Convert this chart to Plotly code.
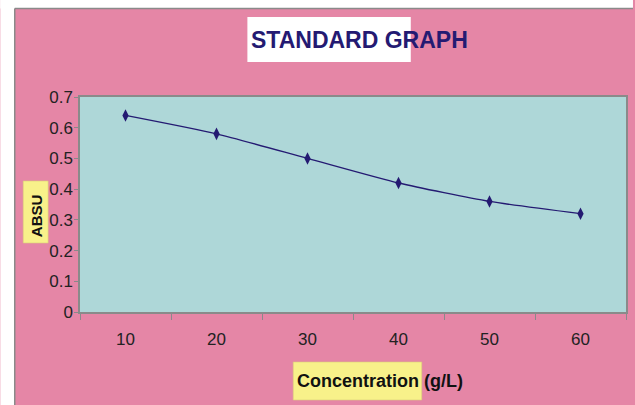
import plotly.graph_objects as go

# Standard curve data
concentration = ["10", "20", "30", "40", "50", "60"]
absorbance = [0.64, 0.58, 0.50, 0.42, 0.36, 0.32]
y_ticks = [0, 0.1, 0.2, 0.3, 0.4, 0.5, 0.6, 0.7]
y_tick_labels = ["0", "0.1", "0.2", "0.3", "0.4", "0.5", "0.6", "0.7"]

W, H = 635, 405
L, R, T, B = 80, 7, 97, 93
PW, PH = W - L - R, H - T - B


def px(x):
    return (x - L) / PW


def py(y):
    return (H - B - y) / PH


PINK = "#E586A6"
NAVY = "#241A72"
YELLOW = "#F8F18A"
GREY = "#8A8A8A"

fig = go.Figure(
    go.Scatter(
        x=concentration,
        y=absorbance,
        mode="lines+markers",
        line=dict(color=NAVY, width=1.3, shape="spline", smoothing=0.6),
        marker=dict(symbol="diamond-tall", size=9, color=NAVY),
        hoverinfo="x+y",
    )
)

shapes = [
    # white margins on top and left of the chart area
    dict(type="rect", xref="paper", yref="paper", x0=px(0), x1=px(W), y0=py(0), y1=py(8.5),
         fillcolor="white", line_width=0, layer="above"),
    dict(type="rect", xref="paper", yref="paper", x0=px(0), x1=px(14.5), y0=py(0), y1=py(H),
         fillcolor="white", line_width=0, layer="above"),
    dict(type="line", xref="paper", yref="paper", x0=px(14.5), x1=px(W), y0=py(8.5), y1=py(8.5),
         line=dict(color=GREY, width=1.5), layer="above"),
    dict(type="line", xref="paper", yref="paper", x0=px(14.5), x1=px(14.5), y0=py(8.5), y1=py(H),
         line=dict(color=GREY, width=1.5), layer="above"),
    # title box
    dict(type="rect", xref="paper", yref="paper", x0=px(248), x1=px(412), y0=py(62), y1=py(17),
         fillcolor="white", line_width=0, layer="above"),
    # axis title boxes
    dict(type="rect", xref="paper", yref="paper", x0=px(23), x1=px(48), y0=py(243), y1=py(181),
         fillcolor=YELLOW, line=dict(color="#D9CF7A", width=0.6), layer="above"),
    dict(type="rect", xref="paper", yref="paper", x0=px(294), x1=px(423), y0=py(400), y1=py(362),
         fillcolor=YELLOW, line=dict(color="#D9CF7A", width=0.6), layer="above"),
]

annotations = [
    dict(text="<b>STANDARD GRAPH</b>", xref="paper", yref="paper", x=px(361), y=py(40),
         xanchor="center", yanchor="middle",
         showarrow=False, font=dict(family="Liberation Sans, Arial", size=23, color=NAVY)),
    dict(text="<b>ABSU</b>", xref="paper", yref="paper", x=px(36), y=py(216), textangle=-90,
         xanchor="center", yanchor="middle",
         showarrow=False, font=dict(family="Liberation Sans, Arial", size=15, color="#111111")),
    dict(text="<b>Concentration (g/L)</b>", xref="paper", yref="paper", x=px(381.5), y=py(381),
         xanchor="center", yanchor="middle",
         showarrow=False, font=dict(family="Liberation Sans, Arial", size=18, color="#111111")),
]

fig.update_layout(
    width=W,
    height=H,
    margin=dict(l=L, r=R, t=T, b=B, pad=0),
    paper_bgcolor=PINK,
    plot_bgcolor="#AED7D8",
    showlegend=False,
    shapes=shapes,
    annotations=annotations,
    font=dict(family="Liberation Sans, Arial", color="#222222"),
    xaxis=dict(
        type="category",
        tickson="boundaries",
        ticks="outside",
        ticklen=6,
        tickcolor=GREY,
        showline=True,
        linecolor=GREY,
        linewidth=1.5,
        mirror=True,
        showgrid=False,
        tickfont=dict(size=17, color="#222222"),
        ticklabelstandoff=11,
        range=[-0.5, 5.5],
    ),
    yaxis=dict(
        range=[0, 0.7],
        tickvals=y_ticks,
        ticktext=y_tick_labels,
        ticks="outside",
        ticklen=4,
        tickcolor=GREY,
        showline=True,
        linecolor=GREY,
        linewidth=1.5,
        mirror=True,
        showgrid=False,
        zeroline=False,
        tickfont=dict(size=17, color="#222222"),
        ticklabelstandoff=-2,
    ),
)

fig.write_html("out.html")
